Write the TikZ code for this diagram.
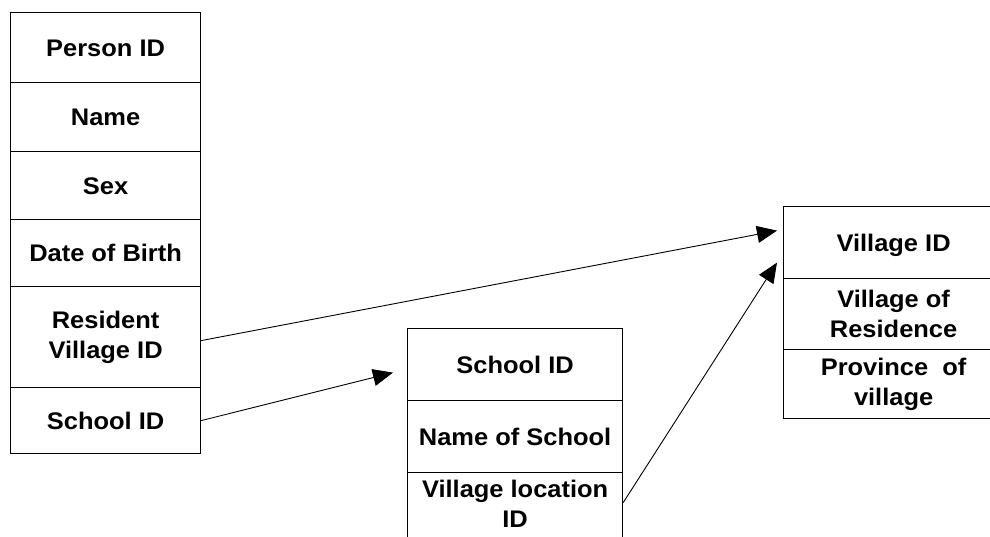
\documentclass[tikz,border=0pt]{standalone}
\usepackage{fontspec}
\setmainfont{Liberation Sans}[FakeStretch=1.06]
\usetikzlibrary{arrows.meta}
\tikzset{
  cell/.style={draw=black, line width=1.2pt, rectangle, anchor=north west, inner sep=0pt,
    align=center, font=\bfseries\fontsize{24}{30}\selectfont},
  onecell/.style={cell, text height=17pt, text depth=0pt},
  link/.style={line width=0.9pt, -{Triangle[length=20pt,width=17pt]}},
}
\begin{document}
\begin{tikzpicture}[x=1pt,y=-1pt]
\clip (0,0) rectangle (990,536);
\fill[white] (0,0) rectangle (990,536);
% Person table
\node[onecell, minimum width=190pt, minimum height=70pt] (p1) at (10,12) {Person ID};
\node[onecell, minimum width=190pt, minimum height=69pt] (p2) at (10,82) {Name};
\node[onecell, minimum width=190pt, minimum height=68pt] (p3) at (10,151) {Sex};
\node[onecell, minimum width=190pt, minimum height=67pt] (p4) at (10,219) {Date of Birth};
\node[cell, minimum width=190pt, minimum height=101pt] (p5) at (10,286) {Resident\\Village ID};
\node[onecell, minimum width=190pt, minimum height=66pt] (p6) at (10,387) {School ID};
% School table
\node[onecell, minimum width=215pt, minimum height=72pt] (s1) at (407,328) {School ID};
\node[onecell, minimum width=215pt, minimum height=72pt] (s2) at (407,400) {Name of School};
\node[cell, minimum width=215pt, minimum height=72pt] (s3) at (407,472) {Village location\\ID\rule[-9pt]{0pt}{9pt}};
% Village table
\node[onecell, minimum width=220pt, minimum height=72pt] (v1) at (783,206) {Village ID};
\node[cell, minimum width=220pt, minimum height=71pt] (v2) at (783,278) {Village of\\Residence};
\node[cell, minimum width=220pt, minimum height=69pt] (v3) at (783,349) {Province\ \ of\\village};
% connectors
\draw[link] ([yshift=-3.5pt]p5.east) -- ([xshift=-6pt,yshift=12pt]v1.west);
\draw[link] (p6.east) -- ([xshift=-14pt,yshift=-8pt]s1.west);
\draw[link] ([yshift=6pt]s3.east) -- ([xshift=-6pt,yshift=-20pt]v1.west);
\end{tikzpicture}
\end{document}
